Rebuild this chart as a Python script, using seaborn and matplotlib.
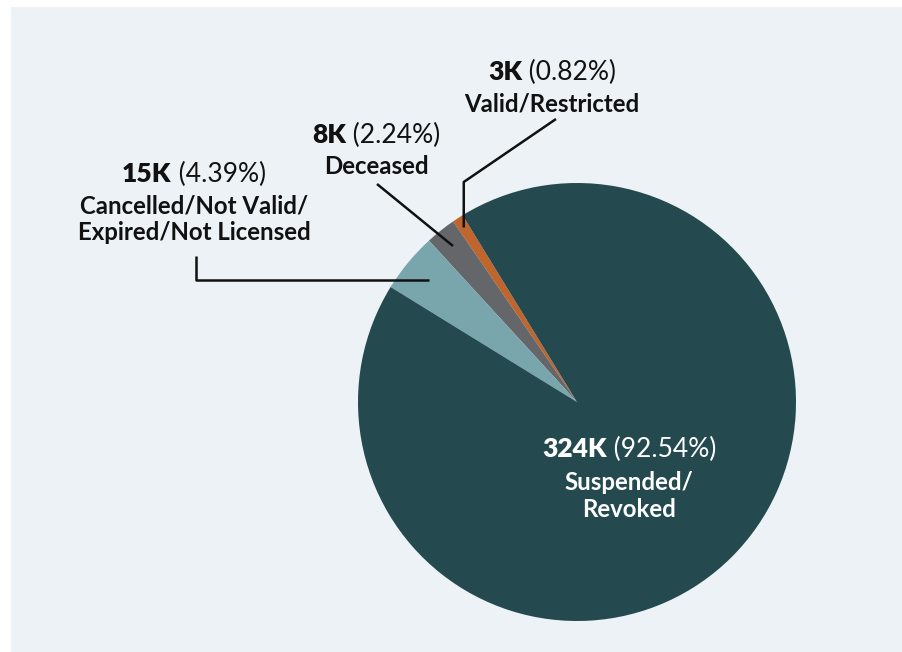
import numpy as np
import matplotlib
matplotlib.use("Agg")
import matplotlib.pyplot as plt
import seaborn as sns
from matplotlib.patches import Rectangle

# ---- data ----
categories = ["Valid/Restricted", "Deceased", "Cancelled/Not Valid/\nExpired/Not Licensed", "Suspended/\nRevoked"]
counts_label = ["3K", "8K", "15K", "324K"]
percents = [0.82, 2.24, 4.39, 92.54]
colors = ["#c0652c", "#646669", "#79a6ad", "#244a50"]

sns.set_style("white")
plt.rcParams["font.family"] = ["Lato", "DejaVu Sans"]

W, H = 902, 652
fig = plt.figure(figsize=(W / 100, H / 100), dpi=100)
fig.patch.set_facecolor("white")
ax = fig.add_axes([0, 0, 1, 1])
ax.set_xlim(0, W)
ax.set_ylim(0, H)
ax.set_aspect("equal")
ax.axis("off")
ax.add_patch(Rectangle((11, 0), W - 11, H - 7, facecolor="#ecf2f5", edgecolor="none", zorder=-5))

cx, cy, R = 577, H - 402, 219
wedges, _ = ax.pie(percents, colors=sns.color_palette(colors), startangle=121.5,
                   counterclock=True, center=(cx, cy), radius=R,
                   wedgeprops=dict(linewidth=0))
ax.set_xlim(0, W)
ax.set_ylim(0, H)
ax.axis("off")

def anchor(w, frac):
    th = np.deg2rad((w.theta1 + w.theta2) / 2)
    return cx + frac * R * np.cos(th), cy + frac * R * np.sin(th)

lc = "#111111"
lw = 1.8
# Valid/Restricted
a0 = anchor(wedges[0], 0.95)
ax.plot([a0[0], a0[0], 556], [a0[1], H - 182, H - 119], color=lc, lw=lw, solid_capstyle="butt")
# Deceased
a1 = anchor(wedges[1], 0.91)
ax.plot([a1[0], 377], [a1[1], H - 184], color=lc, lw=lw, solid_capstyle="butt")
# Cancelled
a2 = anchor(wedges[2], 0.875)
ax.plot([a2[0], 196, 196], [a2[1], a2[1], H - 256], color=lc, lw=lw, solid_capstyle="butt")

renderer = fig.canvas.get_renderer()
NUM_SIZE = 19
LAB_SIZE = 17.3

def headline(xc, ybase, bold, reg, color):
    t1 = ax.text(0, H - ybase, bold, fontsize=NUM_SIZE, fontweight="heavy", color=color,
                 ha="left", va="baseline")
    t2 = ax.text(0, H - ybase, " " + reg, fontsize=NUM_SIZE, color=color,
                 ha="left", va="baseline")
    w1 = t1.get_window_extent(renderer).width
    w2 = t2.get_window_extent(renderer).width
    x0 = xc - (w1 + w2) / 2
    t1.set_x(x0)
    t2.set_x(x0 + w1)

def label(xc, ybase, txt, color):
    ax.text(xc, H - ybase, txt, fontsize=LAB_SIZE, fontweight="bold", color=color,
            ha="center", va="baseline")

# layout of texts (center x, baselines)
layout = [
    (552, 80, [111]),
    (376, 143, [174]),
    (194, 182, [214, 240]),
    (629, 457, [490, 517]),
]
for i, (xc, yb, lbs) in enumerate(layout):
    col = "white" if i == 3 else "#111111"
    headline(xc, yb, counts_label[i], f"({percents[i]:.2f}%)", col)
    for ln, yl in zip(categories[i].split("\n"), lbs):
        label(xc, yl, ln, col)

fig.savefig("out.png", dpi=100, facecolor=fig.get_facecolor())
